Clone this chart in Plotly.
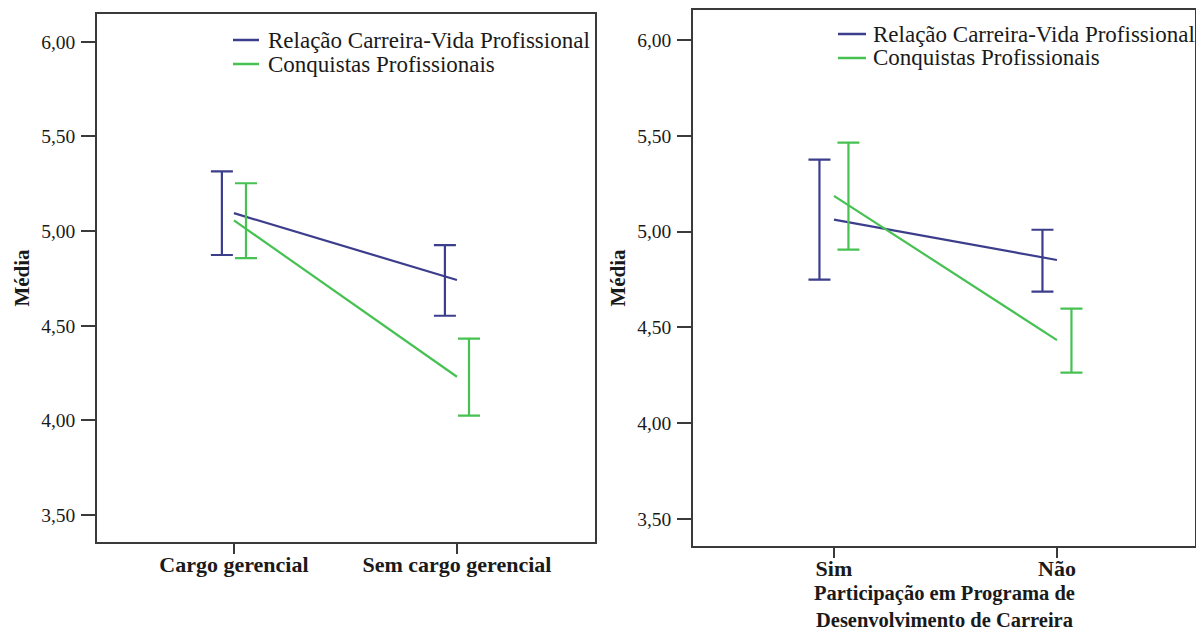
import plotly.graph_objects as go

# ---- data ----
cats_left = ["Cargo gerencial", "Sem cargo gerencial"]
cats_right = ["Sim", "Não"]
series_names = ["Relação Carreira-Vida Profissional", "Conquistas Profissionais"]
xtitle_right = "Participação em Programa de<br>Desenvolvimento de Carreira"
ytitle = "Média"

rel_mean_left = [5.095, 4.742]
rel_hi_left = [5.316, 4.926]
rel_lo_left = [4.874, 4.553]
conq_mean_left = [5.057, 4.231]
conq_hi_left = [5.253, 4.432]
conq_lo_left = [4.858, 4.026]

rel_mean_right = [5.063, 4.852]
rel_hi_right = [5.376, 5.010]
rel_lo_right = [4.750, 4.687]
conq_mean_right = [5.187, 4.434]
conq_hi_right = [5.465, 4.598]
conq_lo_right = [4.906, 4.264]

y_ticks = [3.5, 4.0, 4.5, 5.0, 5.5, 6.0]
y_ticklabels = ["3,50", "4,00", "4,50", "5,00", "5,50", "6,00"]

# ---- style ----
BLUE = "#3c3e8c"
GREEN = "#46c152"
FONT = "Liberation Serif"
TXT = "#1a1a1a"
AXC = "#3a3a3a"
W, H = 1196, 634

fig = go.Figure()


def add_panel(cats, series, xa, ya, offset):
    idx = list(range(len(cats)))
    for (name, mean, hi, lo, color, off) in series:
        fig.add_trace(go.Scatter(
            x=idx, y=mean, mode="lines", name=name,
            line=dict(color=color, width=2.2),
            xaxis=xa, yaxis=ya, showlegend=False, hoverinfo="skip"))
        fig.add_trace(go.Scatter(
            x=[i + off * offset for i in idx], y=mean, mode="markers",
            marker=dict(size=1, color="rgba(0,0,0,0)"),
            error_y=dict(type="data", symmetric=False,
                         array=[h - m for h, m in zip(hi, mean)],
                         arrayminus=[m - l for m, l in zip(mean, lo)],
                         color=color, thickness=2.2, width=11),
            xaxis=xa, yaxis=ya, showlegend=False, hoverinfo="skip"))


add_panel(cats_left, [
    (series_names[0], rel_mean_left, rel_hi_left, rel_lo_left, BLUE, -1),
    (series_names[1], conq_mean_left, conq_hi_left, conq_lo_left, GREEN, 1),
], "x", "y", 0.054)
add_panel(cats_right, [
    (series_names[0], rel_mean_right, rel_hi_right, rel_lo_right, BLUE, -1),
    (series_names[1], conq_mean_right, conq_hi_right, conq_lo_right, GREEN, 1),
], "x2", "y2", 0.065)

xcommon = dict(showline=True, linecolor=AXC, linewidth=1.5, mirror=True,
               ticks="outside", ticklen=10, tickwidth=1.5, tickcolor=AXC,
               ticklabelstandoff=-8,
               showgrid=False, zeroline=False, automargin=False,
               tickfont=dict(family=FONT, size=22, color=TXT, weight="bold"))
ycommon = dict(showline=True, linecolor=AXC, linewidth=1.5, mirror=True,
               ticks="outside", ticklen=14, tickwidth=1.5, tickcolor=AXC,
               ticklabelstandoff=2,
               showgrid=False, zeroline=False, automargin=False,
               tickvals=y_ticks, ticktext=y_ticklabels,
               tickfont=dict(family=FONT, size=19.5, color=TXT),
               title=dict(text=ytitle, font=dict(family=FONT, size=21, color=TXT, weight="bold"),
                          standoff=6))

fig.update_layout(
    width=W, height=H, margin=dict(l=0, r=0, t=0, b=0),
    paper_bgcolor="white", plot_bgcolor="white", showlegend=False,
    font=dict(family=FONT),
    xaxis=dict(xcommon, domain=[97 / W, 595 / W], range=[-0.614, 1.619],
               tickvals=[0, 1], ticktext=cats_left, anchor="y"),
    yaxis=dict(ycommon, domain=[1 - 542 / H, 1 - 14 / H], range=[3.358, 6.147], anchor="x"),
    xaxis2=dict(xcommon, domain=[693 / W, 1195 / W], range=[-0.632, 1.619],
                tickvals=[0, 1], ticktext=cats_right, anchor="y2"),
    yaxis2=dict(ycommon, domain=[1 - 546 / H, 1 - 10 / H], range=[3.359, 6.157], anchor="x2"),
)

# right-panel x title, two lines centred under the plot area
fig.add_annotation(xref="x2 domain", yref="paper", x=0.5, y=1 - 606 / H,
                   text=xtitle_right, showarrow=False, xanchor="center", yanchor="middle",
                   font=dict(family=FONT, size=20.5, color=TXT, weight="bold"))

# ---- manual legends (one per panel) ----
legend_specs = [
    (233, 259, 266, [40, 64]),
    (838, 866, 871, [34, 58]),
]
for (x0, x1, xt, ys) in legend_specs:
    for name, color, yy in zip(series_names, [BLUE, GREEN], ys):
        fig.add_shape(type="line", xref="paper", yref="paper",
                      x0=x0 / W, x1=x1 / W, y0=1 - yy / H, y1=1 - yy / H,
                      line=dict(color=color, width=2.5))
        fig.add_annotation(xref="paper", yref="paper", x=xt / W, y=1 - yy / H,
                           text=name, showarrow=False, xanchor="left", yanchor="middle",
                           font=dict(family=FONT, size=23, color=TXT))

fig.write_html("out.html")
